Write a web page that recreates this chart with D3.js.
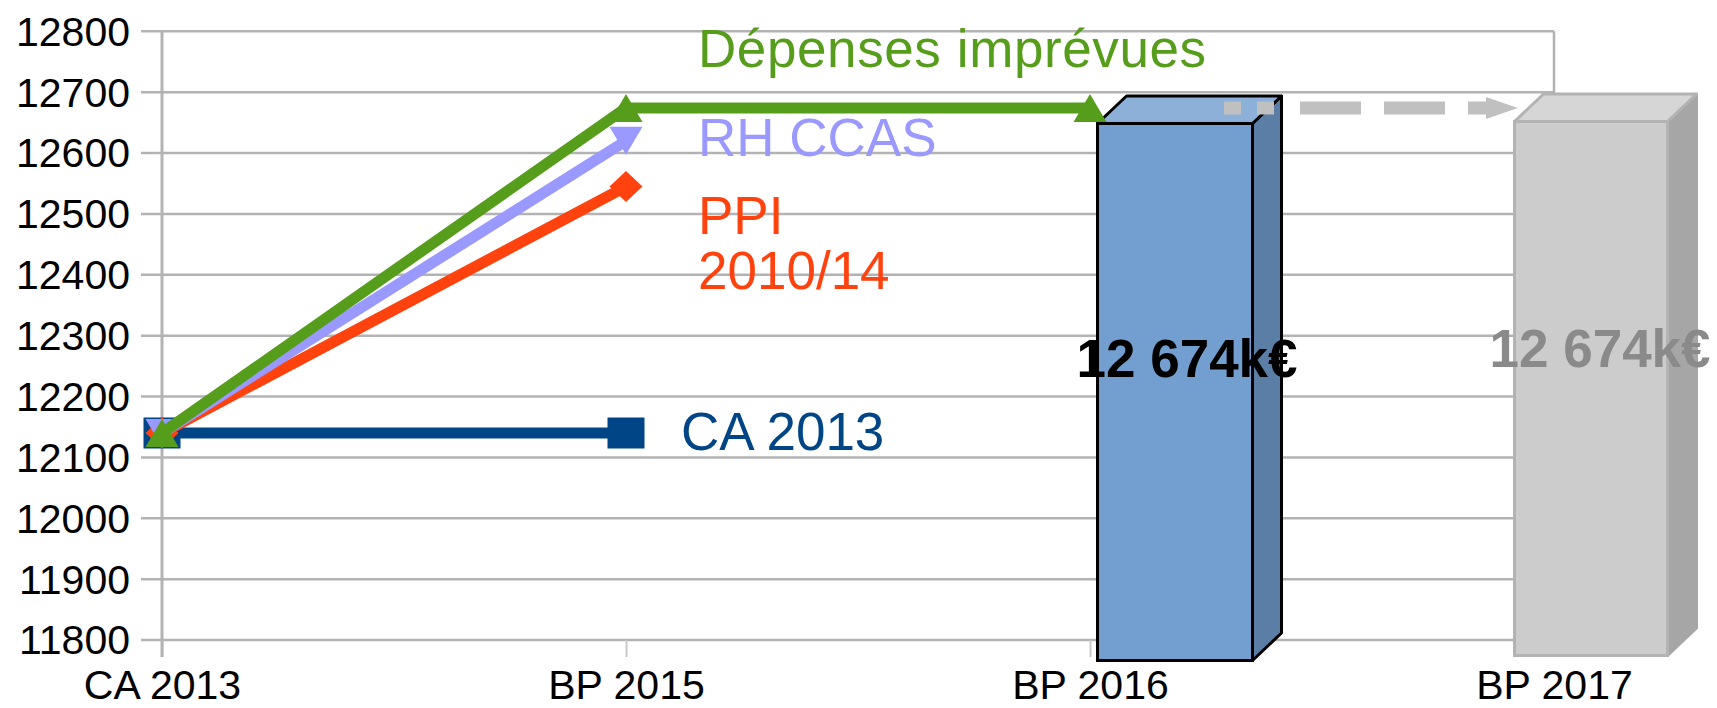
<!DOCTYPE html>
<html>
<head>
<meta charset="utf-8">
<script src="https://cdn.jsdelivr.net/npm/d3@7"></script>
<style>
  body { margin: 0; background: #fff; }
  svg { display: block; font-family: "Liberation Sans", Arial, sans-serif; }
</style>
</head>
<body>
<svg id="chart" width="1717" height="708"></svg>
<script>
// categories on the x axis
const categories = ["CA 2013", "BP 2015", "BP 2016", "BP 2017"];
const yTicks = [11800, 11900, 12000, 12100, 12200, 12300, 12400, 12500, 12600, 12700, 12800];

// line series, values in k€ (one per category, starting at CA 2013)
const caValues = [12140, 12140];
const ppiValues = [12140, 12545];
const rhValues = [12140, 12620];
const depValues = [12140, 12674, 12674];

// the two 3d bars
const barCats = ["BP 2016", "BP 2017"];
const barValues = [12674, 12674];
const barLabels = ["12 674k€", "12 674k€"];

// dashed projection arrow BP 2016 -> BP 2017
const arrowCats = ["BP 2016", "BP 2017"];
const arrowValue = 12674;

const svg = d3.select("#chart");

// scales
const x = d3.scalePoint().domain(categories).range([162, 1554]);
const y = d3.scaleLinear().domain([11800, 12800]).range([640, 31.3]);

const gridColor = "#b3b3b3";

// gridlines
svg.append("g")
   .selectAll("line")
   .data(yTicks)
   .enter()
   .append("line")
   .attr("x1", 141)
   .attr("x2", x("BP 2017"))
   .attr("y1", d => y(d))
   .attr("y2", d => y(d))
   .attr("stroke", gridColor)
   .attr("stroke-width", 2.5);

// right border of the plot area
svg.append("line")
   .attr("x1", x("BP 2017")).attr("x2", x("BP 2017"))
   .attr("y1", y(12800)).attr("y2", y(11800))
   .attr("stroke", gridColor).attr("stroke-width", 2.5);

// y axis labels
let yAxis = svg.append("g")
   .attr("transform", `translate(${x("CA 2013")},0)`)
   .call(d3.axisLeft(y).tickValues(yTicks).tickSize(0).tickPadding(32).tickFormat(d3.format("d")));
yAxis.select(".domain").remove();
yAxis.selectAll("text")
     .attr("font-size", 41)
     .attr("font-family", "Liberation Sans, Arial, sans-serif")
     .attr("fill", "#000")
     .attr("dy", "0.34em");

// x axis
let xAxis = svg.append("g")
   .attr("transform", `translate(0,${y(11800)})`)
   .call(d3.axisBottom(x).tickSize(17).tickPadding(13));
xAxis.select(".domain").remove();
xAxis.selectAll("line").attr("stroke", "#c8c8c8").attr("stroke-width", 2);
xAxis.selectAll("text")
     .attr("font-size", 41)
     .attr("font-family", "Liberation Sans, Arial, sans-serif")
     .attr("fill", "#000")
     .attr("dy", "0.71em");

// vertical axis line
svg.append("line")
   .attr("x1", x("CA 2013")).attr("x2", x("CA 2013"))
   .attr("y1", y(12800)).attr("y2", y(11800) + 17)
   .attr("stroke", gridColor).attr("stroke-width", 3);

// 3d bars
const barStyles = [
  { dxLeft: 7.5, w: 155, topPad: 15.5, botPad: 20.5, front: "#729fcf", top: "#8db0d9", side: "#5b7ea7", stroke: "#000", sideStroke: "#000",
    labelColor: "#000", labelDx: -21, labelY: 377 },
  { dxLeft: -39.5, w: 153, topPad: 13.5, botPad: 15.5, front: "#cccccc", top: "#d6d6d6", side: "#a6a6a6", stroke: "#b3b3b3", sideStroke: "#a6a6a6",
    labelColor: "#8a8a8a", labelDx: -25, labelY: 367 }
];
const depth = { dx: 29, dy: -27.5 };

let bars = svg.append("g");
barCats.forEach((cat, i) => {
  let s = barStyles[i];
  let x0 = x(cat) + s.dxLeft;
  let x1 = x0 + s.w;
  let yTop = y(barValues[i]) + s.topPad;
  let yBot = y(11800) + s.botPad;
  let g = bars.append("g");

  g.append("path")
   .attr("d", `M${x1},${yTop} L${x1 + depth.dx},${yTop + depth.dy} L${x1 + depth.dx},${yBot + depth.dy} L${x1},${yBot} Z`)
   .attr("fill", s.side).attr("stroke", s.sideStroke).attr("stroke-width", 3).attr("stroke-linejoin", "round");
  g.append("path")
   .attr("d", `M${x0},${yTop} L${x0 + depth.dx},${yTop + depth.dy} L${x1 + depth.dx},${yTop + depth.dy} L${x1},${yTop} Z`)
   .attr("fill", s.top).attr("stroke", s.stroke).attr("stroke-width", 3).attr("stroke-linejoin", "round");
  g.append("rect")
   .attr("x", x0).attr("y", yTop)
   .attr("width", s.w).attr("height", yBot - yTop)
   .attr("fill", s.front).attr("stroke", s.stroke).attr("stroke-width", 3);
});

// line series
const series = [
  { name: ["CA 2013"], values: caValues, color: "#004586", marker: "square", labelDx: 55, labelDy: [17], spacing: 0 },
  { name: ["PPI", "2010/14"], values: ppiValues, color: "#ff420e", marker: "diamond", labelDx: 72, labelDy: [47, 102], spacing: 0 },
  { name: ["RH CCAS"], values: rhValues, color: "#9999ff", marker: "down", labelDx: 72, labelDy: [15], spacing: 0 },
  { name: ["Dépenses imprévues"], values: depValues, color: "#579d1c", marker: "up", labelDx: 72, labelDy: [-41], spacing: 0.6 }
];

let markerPath = (type, cx, cy) => {
  if (type === "square") return `M${cx - 18.5},${cy - 15.5} h37 v31 h-37 Z`;
  if (type === "diamond") return `M${cx},${cy - 15.5} L${cx + 16.5},${cy} L${cx},${cy + 15.5} L${cx - 16.5},${cy} Z`;
  if (type === "down") return `M${cx - 16.5},${cy - 14} L${cx + 16.5},${cy - 14} L${cx},${cy + 14} Z`;
  return `M${cx},${cy - 14} L${cx + 16.5},${cy + 14} L${cx - 16.5},${cy + 14} Z`;
};

let line = d3.line().x((d, i) => x(categories[i])).y(d => y(d));

let lines = svg.append("g");
series.forEach(s => {
  lines.append("path")
       .attr("d", line(s.values))
       .attr("fill", "none")
       .attr("stroke", s.color)
       .attr("stroke-width", 11);
  lines.selectAll(null)
       .data(s.values)
       .enter()
       .append("path")
       .attr("d", (d, i) => markerPath(s.marker, x(categories[i]), y(d)))
       .attr("fill", s.color);
});

// dashed grey arrow from the 2016 bar to the 2017 bar
let ay = y(arrowValue);
let ax0 = x(arrowCats[0]) + 134;
let axTip = x(arrowCats[1]) - 36;
svg.append("line")
   .attr("x1", ax0).attr("x2", axTip - 30)
   .attr("y1", ay).attr("y2", ay)
   .attr("stroke", "#c0c0c0")
   .attr("stroke-width", 13)
   .attr("stroke-dasharray", "17 16 17 26 61 23 61 23 100");
svg.append("path")
   .attr("d", `M${axTip - 32},${ay - 11} L${axTip},${ay} L${axTip - 32},${ay + 11} Z`)
   .attr("fill", "#c0c0c0");

// series labels
let labels = svg.append("g");
series.forEach(s => {
  let lx = x(categories[1]) + s.labelDx;
  s.name.forEach((t, k) => {
    labels.append("text")
          .attr("x", lx)
          .attr("y", y(s.values[1]) + s.labelDy[k])
          .attr("font-size", 53)
          .attr("letter-spacing", s.spacing)
          .attr("fill", s.color)
          .text(t);
  });
});

// bar labels
barCats.forEach((cat, i) => {
  let s = barStyles[i];
  svg.append("text")
     .attr("x", x(cat) + s.dxLeft + s.labelDx)
     .attr("y", s.labelY)
     .attr("font-size", 53)
     .attr("font-weight", "bold")
     .attr("fill", s.labelColor)
     .text(barLabels[i]);
});
</script>
</body>
</html>
